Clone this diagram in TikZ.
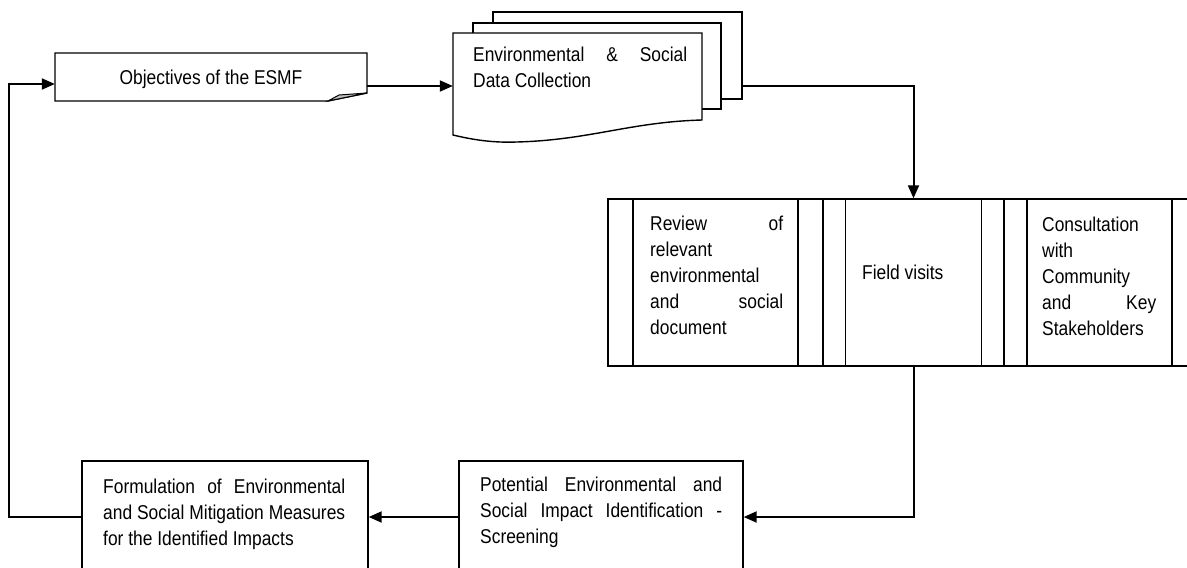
\documentclass[tikz,border=0pt]{standalone}
\usepackage{fontspec}
\setmainfont[FakeStretch=0.87]{Liberation Sans}
\usetikzlibrary{arrows.meta}
\newcommand\jl[2]{\makebox[#1][s]{#2}}
\begin{document}
\begin{tikzpicture}[x=1pt,y=-1pt,
  box/.style={draw, line width=1.4pt, fill=white, rectangle, inner sep=0pt},
  conn/.style={line width=2pt},
  arr/.style={conn, -{Triangle[length=13pt,width=11pt]}},
  txt/.style={inner sep=0pt, anchor=north west, align=left, font=\fontsize{20}{26}\selectfont},
  proc/.style={box, path picture={
     \draw[line width=1.4pt] ([xshift=#1]path picture bounding box.north west) -- ([xshift=#1]path picture bounding box.south west);
     \draw[line width=1.4pt] ([xshift=-#1]path picture bounding box.north east) -- ([xshift=-#1]path picture bounding box.south east);}},
]
\useasboundingbox (0,0) rectangle (1187,568);
\clip (0,0) rectangle (1187,568);

% Data collection stack
\node[box, minimum width=249, minimum height=87] (stk3) at (617.5,55.5) {};
\node[box, minimum width=248, minimum height=86] (stk2) at (597,66) {};
\node[minimum width=249, minimum height=102, inner sep=0pt] (stk1) at (577.5,84) {};
\draw[line width=1.4pt, fill=white] (453,33) -- (702,33) -- (702,120)
  .. controls (630,122) and (590,140) .. (517,142)
  .. controls (490,143) and (470,139) .. (453,135) -- cycle;

% Objectives
\node[minimum width=312, minimum height=48, inner sep=0pt] (obj) at (211,77) {};
\draw[line width=1.4pt, fill=white] (55,53) -- (367,53) -- (367,93) -- (328,101) -- (55,101) -- cycle;
\draw[line width=1pt, fill=gray!50] (328,101) -- (339,95) -- (367,93) -- cycle;
\node[inner sep=0pt, anchor=base, font=\fontsize{20}{26}\selectfont] (objt) at (211,84) {Objectives of the ESMF};

% Process blocks
\node[proc=25pt, minimum width=215, minimum height=167] (rev) at (715.5,282.5) {};
\node[proc=22.5pt, minimum width=181, minimum height=167] (fv) at (913.5,282.5) {};
\node[proc=23pt, minimum width=191, minimum height=167] (con) at (1099.5,282.5) {};

% Bottom boxes
\node[box, minimum width=286, minimum height=112] (form) at (225,517) {};
\node[box, minimum width=284, minimum height=112] (pot) at (601,517) {};

% Connectors
\draw[arr] (form.west) -- ++(-72,0) |- ([yshift=-7pt]obj.west);
\draw[arr] ([yshift=-9pt]obj.east) -- ([yshift=-9pt]obj.east -| stk1.west);
\draw[arr] ([yshift=14pt]stk3.south east) -| (fv.north);
\draw[arr] (fv.south) |- (pot.east);
\draw[arr] (pot.west) -- (form.east);

% Texts
\node[txt] (dct) at (473,47) {\jl{214pt}{Environmental \& Social}\\Data Collection};
\node[txt] (revt) at (650,215.5) {\jl{133pt}{Review of}\\relevant\\environmental\\\jl{133pt}{and social}\\document};
\node[txt, anchor=base west] (fvt) at (862,279) {Field visits};
\node[txt] (cont) at (1042,216.5) {Consultation\\with\\Community\\\jl{114pt}{and Key}\\Stakeholders};
\node[txt] (pott) at (480,476.5) {\jl{242pt}{Potential Environmental and}\\\jl{242pt}{Social Impact Identification -}\\Screening};
\node[txt] (formt) at (103,478.5) {\jl{242pt}{Formulation of Environmental}\\\jl{242pt}{and Social Mitigation Measures}\\for the Identified Impacts};
\end{tikzpicture}
\end{document}
